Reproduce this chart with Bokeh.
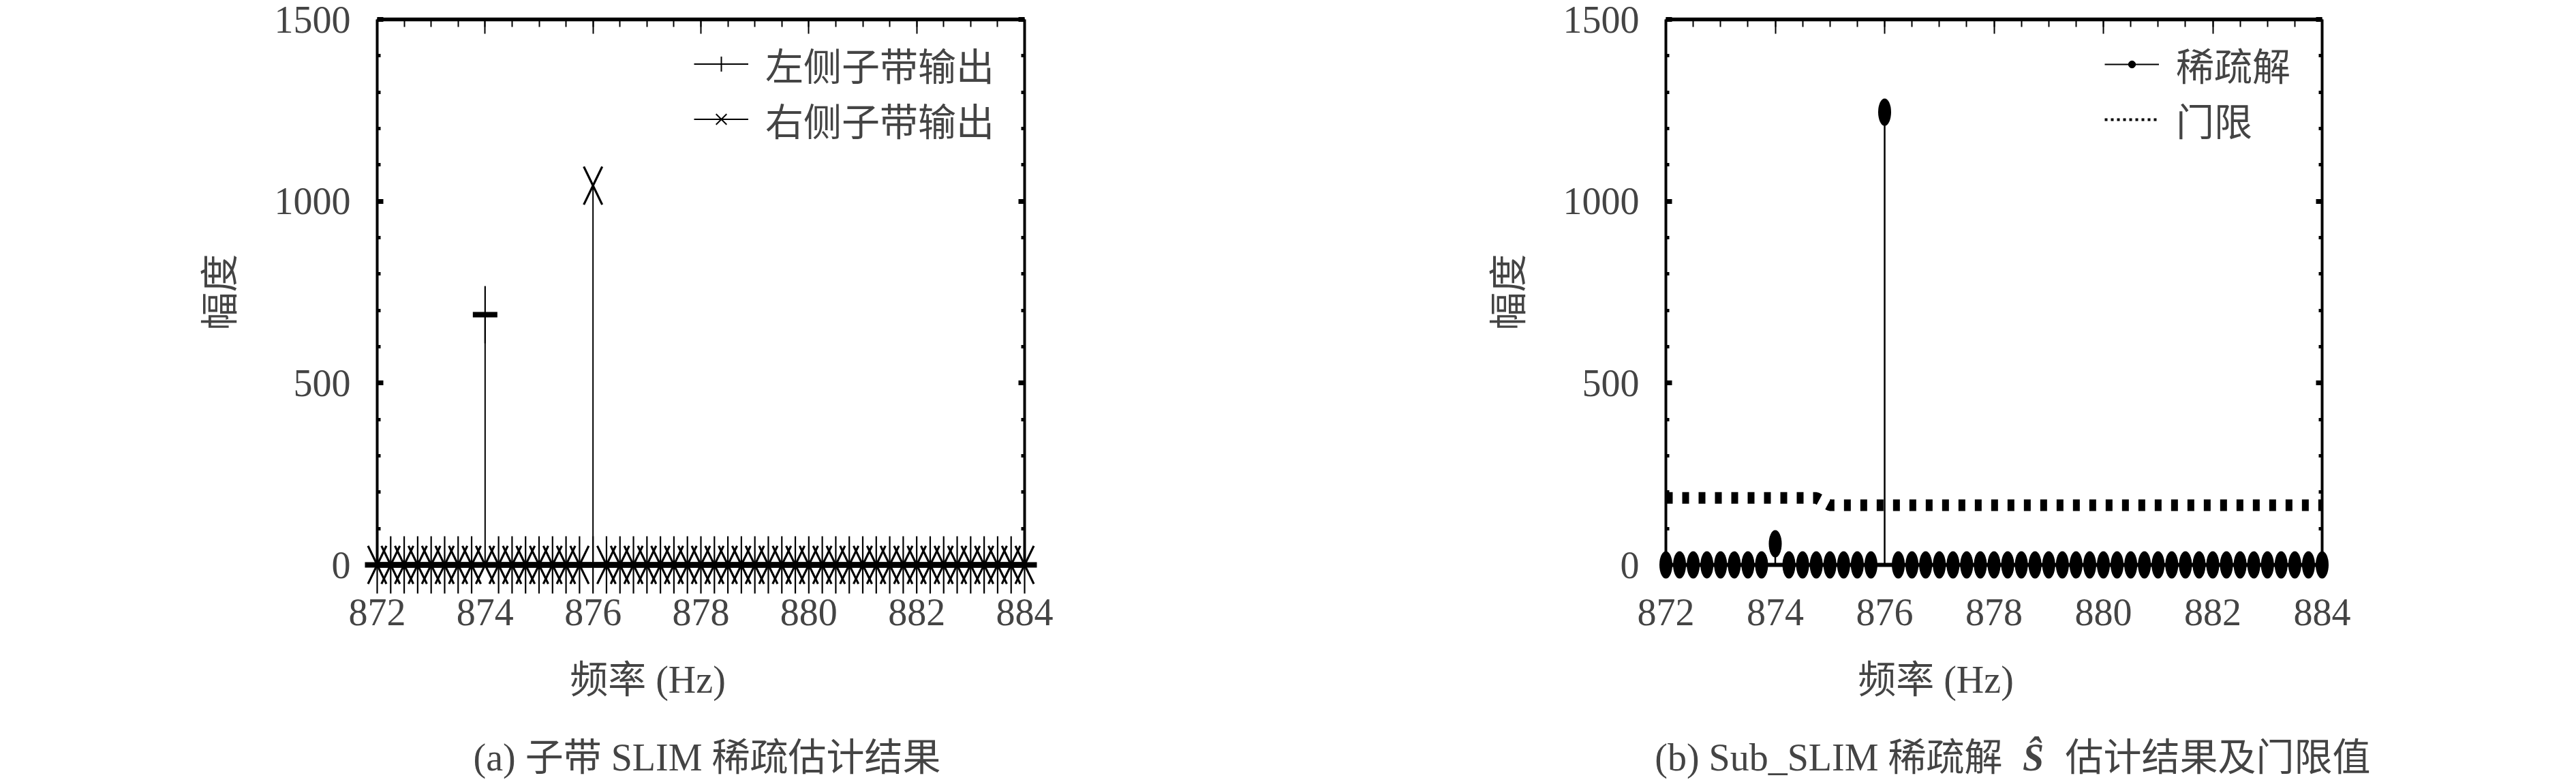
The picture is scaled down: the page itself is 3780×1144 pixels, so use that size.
from bokeh.plotting import figure
from bokeh.models import Range1d, LinearAxis, FixedTicker, Legend, LegendItem, Label
from bokeh.layouts import row
from bokeh.embed import file_html
from bokeh.resources import INLINE

# ---------------- data ----------------
freq = [872.0, 872.25, 872.5, 872.75, 873.0, 873.25, 873.5, 873.75,
        874.0, 874.25, 874.5, 874.75, 875.0, 875.25, 875.5, 875.75,
        876.0, 876.25, 876.5, 876.75, 877.0, 877.25, 877.5, 877.75,
        878.0, 878.25, 878.5, 878.75, 879.0, 879.25, 879.5, 879.75,
        880.0, 880.25, 880.5, 880.75, 881.0, 881.25, 881.5, 881.75,
        882.0, 882.25, 882.5, 882.75, 883.0, 883.25, 883.5, 883.75,
        884.0]

# (a) left / right sub-band SLIM output
left_band = [0, 0, 0, 0, 0, 0, 0, 0,
             688, 0, 0, 0, 0, 0, 0, 0,
             0, 0, 0, 0, 0, 0, 0, 0,
             0, 0, 0, 0, 0, 0, 0, 0,
             0, 0, 0, 0, 0, 0, 0, 0,
             0, 0, 0, 0, 0, 0, 0, 0,
             0]
right_band = [0, 0, 0, 0, 0, 0, 0, 0,
              0, 0, 0, 0, 0, 0, 0, 0,
              1043, 0, 0, 0, 0, 0, 0, 0,
              0, 0, 0, 0, 0, 0, 0, 0,
              0, 0, 0, 0, 0, 0, 0, 0,
              0, 0, 0, 0, 0, 0, 0, 0,
              0]

# (b) Sub_SLIM sparse solution and threshold
sparse = [0, 0, 0, 0, 0, 0, 0, 0,
          58, 0, 0, 0, 0, 0, 0, 0,
          1245, 0, 0, 0, 0, 0, 0, 0,
          0, 0, 0, 0, 0, 0, 0, 0,
          0, 0, 0, 0, 0, 0, 0, 0,
          0, 0, 0, 0, 0, 0, 0, 0,
          0]
threshold = [184, 184, 184, 184, 184, 184, 184, 184,
             184, 184, 184, 184, 164, 164, 164, 164,
             164, 164, 164, 164, 164, 164, 164, 164,
             164, 164, 164, 164, 164, 164, 164, 164,
             164, 164, 164, 164, 164, 164, 164, 164,
             164, 164, 164, 164, 164, 164, 164, 164,
             164]

x_major_ticks = [872, 874, 876, 878, 880, 882, 884]
x_minor_ticks = [872.5, 873, 873.5, 874, 874.5, 875, 875.5, 876, 876.5, 877,
                 877.5, 878, 878.5, 879, 879.5, 880, 880.5, 881, 881.5, 882,
                 882.5, 883, 883.5]
y_major_ticks = [0, 500, 1000, 1500]
y_minor_ticks = [100, 200, 300, 400, 600, 700, 800, 900, 1100, 1200, 1300, 1400]

labels_a = ["左侧子带输出", "右侧子带输出"]
labels_b = ["稀疏解", "门限"]
x_label = "频率 (Hz)"
y_label = "幅度"
caption_a = "(a) 子带 SLIM 稀疏估计结果"
caption_b = ["(b) Sub_SLIM 稀疏解", "Ŝ", "估计结果及门限值"]

# ---------------- style / geometry (pixels) ----------------
FONT = "Liberation Serif, Noto Sans CJK SC"
FS = "56px"
X0, X1 = freq[0], freq[-1]
Y0, Y1 = 0, 1500
H = 1144                   # figure height
TOP_PX, ZERO_PX = 28, 828  # y of 1500 and of 0 inside the figure
blank = {t: "" for t in x_major_ticks + y_major_ticks}


def make_fig(fig_w, left_px, right_px):
    sx = (right_px - left_px) / (X1 - X0)
    sy = (ZERO_PX - TOP_PX) / (Y1 - Y0)
    xr = Range1d(X0 - left_px / sx, X1 + (fig_w - right_px) / sx)
    yr = Range1d(Y0 - (H - ZERO_PX) / sy, Y1 + TOP_PX / sy)
    p = figure(frame_width=fig_w, frame_height=H,
               min_border_left=0, min_border_right=0,
               min_border_top=0, min_border_bottom=0,
               x_range=xr, y_range=yr,
               x_axis_location=None, y_axis_location=None,
               output_backend="svg", toolbar_location=None)
    p.outline_line_color = None
    p.xgrid.visible = False
    p.ygrid.visible = False
    p.background_fill_color = "white"
    p.border_fill_color = "white"

    xb = LinearAxis(ticker=FixedTicker(ticks=x_major_ticks, minor_ticks=[]),
                    fixed_location=Y0,
                    axis_line_color=None, major_tick_line_color=None,
                    minor_tick_line_color=None,
                    major_label_text_font=FONT, major_label_text_font_size=FS,
                    major_label_standoff=44,
                    axis_label=x_label, axis_label_text_font=FONT,
                    axis_label_text_font_size=FS, axis_label_text_font_style="normal",
                    axis_label_standoff=46)
    p.add_layout(xb, "below")

    xt = LinearAxis(ticker=FixedTicker(ticks=x_major_ticks, minor_ticks=x_minor_ticks),
                    fixed_location=Y1, bounds=(X0, X1), axis_line_width=5.5,
                    major_tick_in=21, major_tick_out=0, major_tick_line_width=2,
                    minor_tick_in=11, minor_tick_out=0, minor_tick_line_width=2,
                    major_label_overrides=blank, major_label_standoff=0)
    p.add_layout(xt, "above")

    yl = LinearAxis(ticker=FixedTicker(ticks=y_major_ticks, minor_ticks=y_minor_ticks),
                    bounds=(Y0, Y1), fixed_location=X0, axis_line_width=4,
                    major_tick_in=9, major_tick_out=0, major_tick_line_width=7,
                    minor_tick_in=5, minor_tick_out=0, minor_tick_line_width=5,
                    major_label_text_font=FONT, major_label_text_font_size=FS,
                    major_label_standoff=39,
                    axis_label=y_label, axis_label_text_font=FONT,
                    axis_label_text_font_size=FS, axis_label_text_font_style="normal",
                    axis_label_standoff=46)
    p.add_layout(yl, "left")

    yrx = LinearAxis(ticker=FixedTicker(ticks=y_major_ticks, minor_ticks=y_minor_ticks),
                     bounds=(Y0, Y1), fixed_location=X1, axis_line_width=4,
                     major_tick_in=9, major_tick_out=0, major_tick_line_width=7,
                     minor_tick_in=5, minor_tick_out=0, minor_tick_line_width=5,
                     major_label_overrides=blank, major_label_standoff=0)
    p.add_layout(yrx, "right")
    return p


baseline = [0] * len(freq)

# ---------------- (a) ----------------
p1 = make_fig(1900, 553, 1503)
p1.segment(x0=freq, y0=baseline, x1=freq, y1=left_band, line_color="black", line_width=2)
p1.segment(x0=freq, y0=baseline, x1=freq, y1=right_band, line_color="black", line_width=2)
p1.line(freq, baseline, line_color="black", line_width=8)
p1.rect(x=freq, y=left_band, width=2.2, height=84, width_units="screen",
        height_units="screen", fill_color="black", line_color=None)
p1.rect(x=freq, y=left_band, width=36, height=8, width_units="screen",
        height_units="screen", fill_color="black", line_color=None)
for ang in (1.12, -1.12):
    p1.rect(x=freq, y=right_band, width=62, height=3.2, angle=ang, width_units="screen",
            height_units="screen", fill_color="black", line_color=None)

la1 = p1.line(freq, left_band, line_color="black", line_width=2, visible=False)
ma1 = p1.scatter(freq, left_band, marker="cross", size=24, line_color="black",
                 line_width=2, visible=False)
la2 = p1.line(freq, right_band, line_color="black", line_width=2, visible=False)
ma2 = p1.scatter(freq, right_band, marker="x", size=16, line_color="black",
                 line_width=2, visible=False)
leg1 = Legend(items=[LegendItem(label=labels_a[0], renderers=[la1, ma1]),
                     LegendItem(label=labels_a[1], renderers=[la2, ma2])],
              location=(1018, 929), border_line_color=None, background_fill_alpha=0,
              inactive_fill_alpha=0,
              glyph_width=80, glyph_height=55, label_height=55, label_standoff=25,
              spacing=-16, padding=0, margin=0,
              label_text_font=FONT, label_text_font_size=FS)
p1.add_layout(leg1)
p1.add_layout(Label(x=1037, y=34, x_units="screen", y_units="screen", text=caption_a,
                    text_align="center", text_baseline="alphabetic",
                    text_font=FONT, text_font_size=FS))

# ---------------- (b) ----------------
p2 = make_fig(1880, 544, 1507)
p2.line(freq, threshold, line_color="black", line_width=17, line_dash="10 14",
        line_cap="butt")
p2.segment(x0=freq, y0=baseline, x1=freq, y1=sparse, line_color="black", line_width=2.5)
p2.line(freq, baseline, line_color="black", line_width=6)
p2.ellipse(x=freq, y=sparse, width=19, height=40, width_units="screen",
           height_units="screen", fill_color="black", line_color=None)

lb1 = p2.line(freq, sparse, line_color="black", line_width=2, visible=False)
mb1 = p2.scatter(freq, sparse, marker="circle", size=10, fill_color="black",
                 line_color="black", visible=False)
lb2 = p2.line(freq, threshold, line_color="black", line_width=4, line_dash="4 5",
              visible=False)
leg2 = Legend(items=[LegendItem(label=labels_b[0], renderers=[lb1, mb1]),
                     LegendItem(label=labels_b[1], renderers=[lb2])],
              location=(1188, 929), border_line_color=None, background_fill_alpha=0,
              inactive_fill_alpha=0,
              glyph_width=80, glyph_height=26, label_height=55, label_standoff=25,
              spacing=-16, padding=0, margin=0,
              label_text_font=FONT, label_text_font_size=FS)
p2.add_layout(leg2)
p2.add_layout(Label(x=1038, y=34, x_units="screen", y_units="screen", text=caption_b[0],
                    text_align="right", text_baseline="alphabetic",
                    text_font=FONT, text_font_size=FS))
p2.add_layout(Label(x=1083, y=34, x_units="screen", y_units="screen", text=caption_b[1],
                    text_align="center", text_baseline="alphabetic",
                    text_font=FONT, text_font_size=FS, text_font_style="bold italic"))
p2.add_layout(Label(x=1130, y=34, x_units="screen", y_units="screen", text=caption_b[2],
                    text_align="left", text_baseline="alphabetic",
                    text_font=FONT, text_font_size=FS))

layout = row(p1, p2)
open("out.html", "w").write(file_html(layout, INLINE))
